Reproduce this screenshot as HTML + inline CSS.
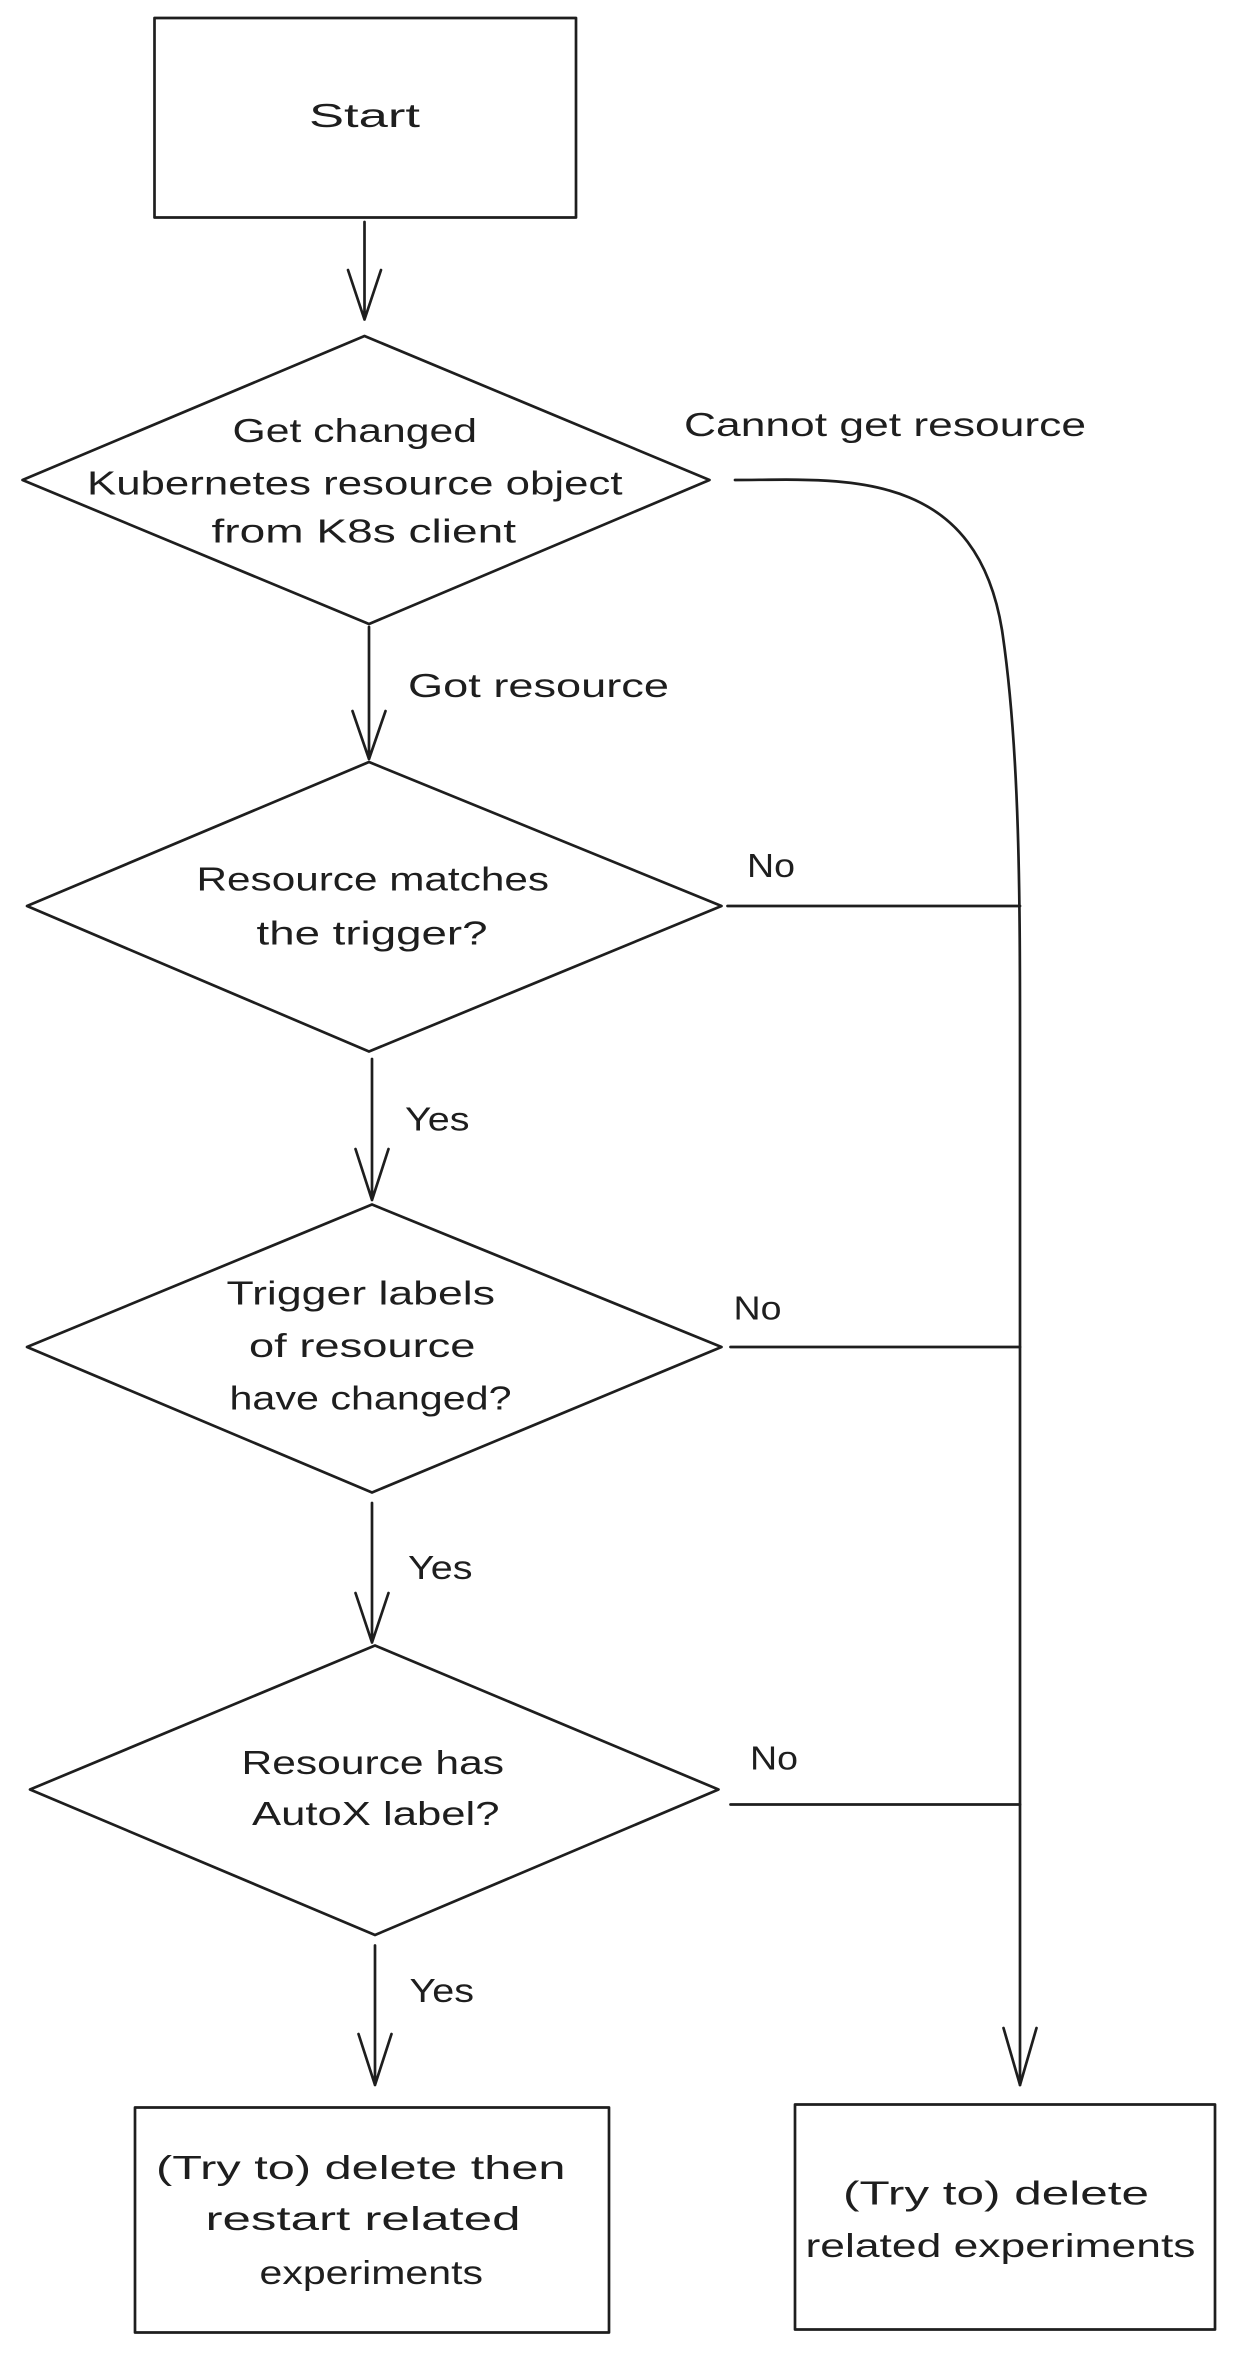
<!DOCTYPE html>
<html><head><meta charset="utf-8"><style>
html,body{margin:0;padding:0;background:#fff;}
svg{display:block;}
text{font-family:"Liberation Sans",sans-serif;font-size:22px;fill:#1e1e1e;dominant-baseline:middle;}
</style></head><body>
<svg width="1238" height="2360" viewBox="0 0 825.33 1573.33" xmlns="http://www.w3.org/2000/svg">
<g fill="none" stroke="#1e1e1e" stroke-width="1.8" stroke-linecap="round" stroke-linejoin="round">
<rect x="103" y="12" width="281" height="133"/>
<polygon points="243,224 473,320 246,416 15,320"/>
<polygon points="246,508 481,604 246,701 18,604"/>
<polygon points="248,803 481,898 248,995 18,898"/>
<polygon points="250,1097 479,1193 250,1290 20,1193"/>
<rect x="90" y="1405" width="316" height="150"/>
<rect x="530" y="1403" width="280" height="150"/>
<path d="M243,148 L243,213 M232,180 L243,213 L254,180"/>
<path d="M246,418 L246,506 M235,474 L246,506 L257,474"/>
<path d="M248,706 L248,800 M237,766 L248,800 L259,766"/>
<path d="M248,1002 L248,1095 M237,1062 L248,1095 L259,1062"/>
<path d="M250,1297 L250,1390 M239,1356 L250,1390 L261,1356"/>
<path d="M490,320 C560,320 650,310 668,420 C680,500 680,600 680,700 L680,1390"/>
<path d="M669,1352 L680,1390 L691,1352"/>
<path d="M485,604 L680,604"/>
<path d="M487,898 L680,898"/>
<path d="M487,1203 L680,1203"/>
</g>
<g transform="translate(0,2)">
<text x="206" y="77" textLength="74" lengthAdjust="spacingAndGlyphs">Start</text>
<text x="155" y="287" textLength="163" lengthAdjust="spacingAndGlyphs">Get changed</text>
<text x="58" y="322" textLength="357" lengthAdjust="spacingAndGlyphs">Kubernetes resource object</text>
<text x="141" y="354" textLength="203" lengthAdjust="spacingAndGlyphs">from K8s client</text>
<text x="456" y="283" textLength="268" lengthAdjust="spacingAndGlyphs">Cannot get resource</text>
<text x="272" y="457" textLength="174" lengthAdjust="spacingAndGlyphs">Got resource</text>
<text x="131" y="586" textLength="235" lengthAdjust="spacingAndGlyphs">Resource matches</text>
<text x="171" y="622" textLength="154" lengthAdjust="spacingAndGlyphs">the trigger?</text>
<text x="498" y="577" textLength="32" lengthAdjust="spacingAndGlyphs">No</text>
<text x="270" y="746" textLength="43" lengthAdjust="spacingAndGlyphs">Yes</text>
<text x="151" y="862" textLength="179" lengthAdjust="spacingAndGlyphs">Trigger labels</text>
<text x="166" y="897" textLength="151" lengthAdjust="spacingAndGlyphs">of resource</text>
<text x="153" y="932" textLength="188" lengthAdjust="spacingAndGlyphs">have changed?</text>
<text x="489" y="872" textLength="32" lengthAdjust="spacingAndGlyphs">No</text>
<text x="272" y="1045" textLength="43" lengthAdjust="spacingAndGlyphs">Yes</text>
<text x="161" y="1175" textLength="175" lengthAdjust="spacingAndGlyphs">Resource has</text>
<text x="168" y="1209" textLength="165" lengthAdjust="spacingAndGlyphs">AutoX label?</text>
<text x="500" y="1172" textLength="32" lengthAdjust="spacingAndGlyphs">No</text>
<text x="273" y="1327" textLength="43" lengthAdjust="spacingAndGlyphs">Yes</text>
<text x="104" y="1445" textLength="273" lengthAdjust="spacingAndGlyphs">(Try to) delete then</text>
<text x="137" y="1479" textLength="210" lengthAdjust="spacingAndGlyphs">restart related</text>
<text x="173" y="1515" textLength="149" lengthAdjust="spacingAndGlyphs">experiments</text>
<text x="562" y="1462" textLength="204" lengthAdjust="spacingAndGlyphs">(Try to) delete</text>
<text x="537" y="1497" textLength="260" lengthAdjust="spacingAndGlyphs">related experiments</text>
</g>
</svg>
</body></html>
